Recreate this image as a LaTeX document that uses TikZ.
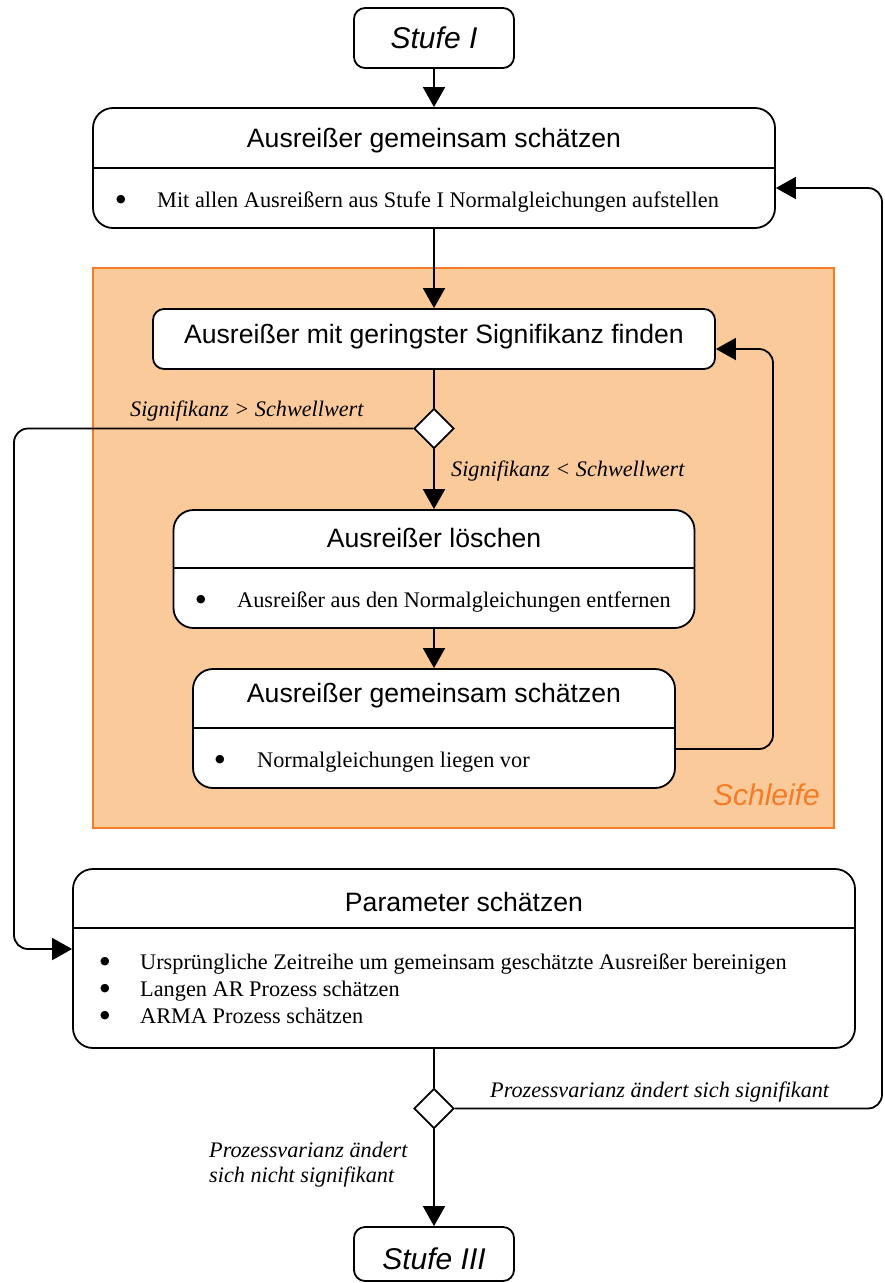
\documentclass[tikz,border=0pt]{standalone}
\usepackage{fontspec}
\setmainfont{Liberation Serif}
\setsansfont{Liberation Sans}
\newfontfamily\dvsans{DejaVu Sans}
\usetikzlibrary{shapes.geometric,arrows.meta,calc}
\definecolor{loopfill}{RGB}{251,202,154}
\definecolor{loopline}{RGB}{244,124,38}
\begin{document}
\begin{tikzpicture}[x=1pt,y=-1pt,
  box/.style={draw, line width=1.8pt, fill=white, inner sep=0pt},
  bigbox/.style={box, rounded corners=20pt},
  smallbox/.style={box, rounded corners=11pt},
  dia/.style={draw, diamond, fill=white, line width=1.8pt, minimum width=40pt, minimum height=40pt, inner sep=0pt},
  conn/.style={line width=1.8pt},
  arr/.style={conn, -{Triangle[length=20pt,width=22pt]}},
  divider/.style={line width=1.3pt},
  title/.style={font=\sffamily\fontsize{26.6}{30}\selectfont, anchor=base, inner sep=0pt},
  stufe/.style={font=\sffamily\itshape\fontsize{30}{34}\selectfont, anchor=base, inner sep=0pt},
  body/.style={font=\fontsize{22.3}{27}\selectfont, anchor=base west, inner sep=0pt},
  bul/.style={font=\dvsans\fontsize{11}{11}\selectfont, anchor=base, inner sep=0pt, yshift=4.5pt},
  lbl/.style={font=\itshape\fontsize{22.2}{26}\selectfont, anchor=base west, inner sep=0pt, align=left}
]
\useasboundingbox (0,0) rectangle (884,1283);
\fill[white] (0,0) rectangle (884,1283);

% loop area
\node[draw=loopline, fill=loopfill, line width=1.6pt, minimum width=741pt, minimum height=560pt, inner sep=0pt] (loop) at (463.5,548) {};
\node[font=\sffamily\itshape\fontsize{30}{34}\selectfont, text=loopline, anchor=base east, inner sep=0pt] (schleife) at (820,805) {Schleife};

% boxes
\node[smallbox, minimum width=160pt, minimum height=60pt] (s1) at (434,38) {};
\node[stufe] (s1t) at (434,48) {Stufe I};

\node[bigbox, minimum width=682pt, minimum height=120pt] (b1) at (434,168) {};
\draw[divider] ($(b1.north west)+(0,61)$) -- ($(b1.north east)+(0,61)$);
\node[title] (b1t) at (434,147) {Ausreißer gemeinsam schätzen};
\node[bul] (b1b) at (121,207) {●};
\node[body] (b1x) at (157,207) {Mit allen Ausreißern aus Stufe I Normalgleichungen aufstellen};

\node[smallbox, minimum width=562pt, minimum height=60pt] (b2) at (434,339) {};
\node[title] (b2t) at (434,343) {Ausreißer mit geringster Signifikanz finden};

\node[dia] (d1) at (434,428.5) {};

\node[bigbox, minimum width=521pt, minimum height=118pt] (b3) at (434,569) {};
\draw[divider] ($(b3.north west)+(0,59)$) -- ($(b3.north east)+(0,59)$);
\node[title] (b3t) at (434,547) {Ausreißer löschen};
\node[bul] (b3b) at (201,607) {●};
\node[body] (b3x) at (237,607) {Ausreißer aus den Normalgleichungen entfernen};

\node[bigbox, minimum width=482pt, minimum height=119pt] (b4) at (434,728.5) {};
\draw[divider] ($(b4.north west)+(0,60)$) -- ($(b4.north east)+(0,60)$);
\node[title] (b4t) at (434,702) {Ausreißer gemeinsam schätzen};
\node[bul] (b4b) at (220,767) {●};
\node[body] (b4x) at (257,767) {Normalgleichungen liegen vor};

\node[bigbox, minimum width=782pt, minimum height=179pt] (b5) at (464,958.5) {};
\draw[divider] ($(b5.north west)+(0,60)$) -- ($(b5.north east)+(0,60)$);
\node[title] (b5t) at (464,911) {Parameter schätzen};
\node[bul] (b5b1) at (105,969) {●};
\node[body] (b5x1) at (140,969) {Ursprüngliche Zeitreihe um gemeinsam geschätzte Ausreißer bereinigen};
\node[bul] (b5b2) at (105,996) {●};
\node[body] (b5x2) at (140,996) {Langen AR Prozess schätzen};
\node[bul] (b5b3) at (105,1023) {●};
\node[body] (b5x3) at (140,1023) {ARMA Prozess schätzen};

\node[dia] (d2) at (434,1108.5) {};

\node[smallbox, minimum width=160pt, minimum height=54pt] (s3) at (434,1254) {};
\node[stufe] (s3t) at (434,1269) {Stufe III};

% labels
\node[lbl] (l1) at (130,416) {Signifikanz > Schwellwert};
\node[lbl] (l2) at (451,476) {Signifikanz < Schwellwert};
\node[lbl] (l3) at (490,1097) {Prozessvarianz ändert sich signifikant};
\node[lbl] (l4) at (209,1157) {Prozessvarianz ändert};
\node[lbl] (l5) at (209,1182) {sich nicht signifikant};

% helper coordinates
\coordinate (c4a) at (773,749);
\coordinate (c4b) at (773,349);
\coordinate (cl1) at (14,428.5);
\coordinate (cl2) at (14,949);
\coordinate (cr1) at (882,1108.5);
\coordinate (cr2) at (882,188);

% connectors
\draw[arr] (s1) -- (b1);
\draw[arr] (b1) -- (b2);
\draw[conn] (b2) -- (d1);
\draw[arr] (d1) -- (b3);
\draw[arr] (b3) -- (b4);
\draw[arr, rounded corners=14pt] (b4.east |- c4a) -- (c4a) -- (c4b) -- (b2.east |- c4b);
\draw[arr, rounded corners=14pt] (d1.west) -- (cl1) -- (cl2) -- (b5.west |- cl2);
\draw[conn] (b5.south -| d2) -- (d2);
\draw[arr] (d2) -- (s3);
\draw[arr, rounded corners=14pt] (d2.east) -- (cr1) -- (cr2) -- (b1.east |- cr2);
\end{tikzpicture}
\end{document}
